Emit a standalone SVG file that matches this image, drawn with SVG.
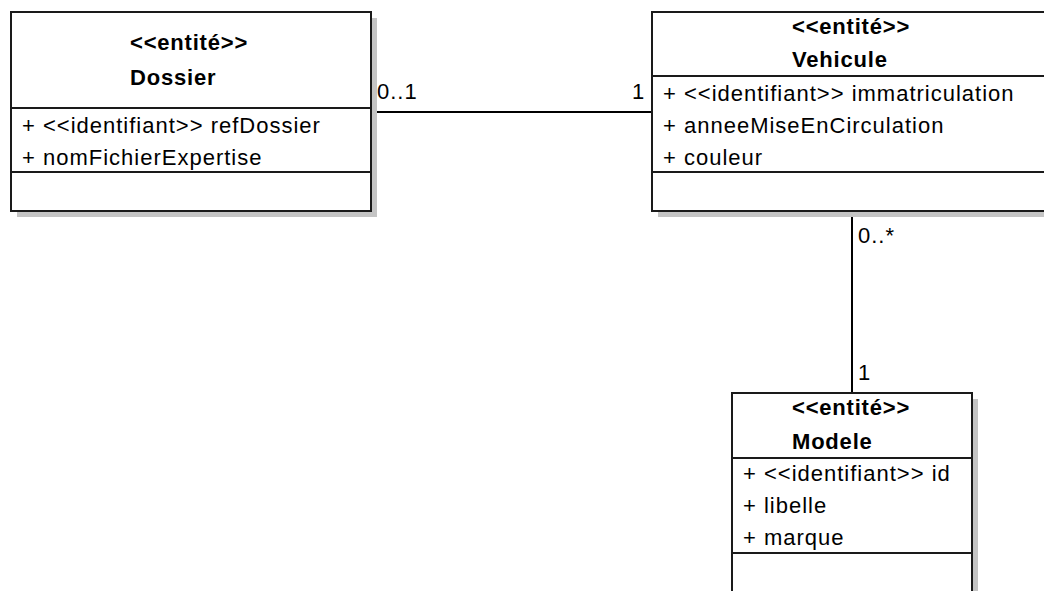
<svg xmlns="http://www.w3.org/2000/svg" width="1044" height="591" viewBox="0 0 1044 591">
<style>
.box{fill:#fff;stroke:#1a1a1a;stroke-width:2}
.shadow{fill:#c4c4c4}
.div{stroke:#1a1a1a;stroke-width:2}
.t{font-family:"Liberation Sans",Arial,sans-serif;font-size:22px;letter-spacing:1px;fill:#000}
.b{font-weight:bold;letter-spacing:0.8px}
.conn{stroke:#000;stroke-width:2;fill:none}
</style>
<rect width="1044" height="591" fill="#fff"/>
<g id="connectors">
<line class="conn" x1="372" y1="112" x2="652" y2="112"/>
<line class="conn" x1="852" y1="211" x2="852" y2="393"/>
<text class="t" x="377" y="99">0..1</text>
<text class="t" x="632" y="99">1</text>
<text class="t" x="858" y="243">0..*</text>
<text class="t" x="858" y="380">1</text>
</g>
<g id="dossier">
<rect class="shadow" x="17" y="18" width="360" height="199"/>
<rect class="box" x="11" y="12" width="360" height="199"/>
<line class="div" x1="11" y1="108" x2="371" y2="108"/>
<line class="div" x1="11" y1="172" x2="371" y2="172"/>
<text class="t b" x="130" y="50">&lt;&lt;entité&gt;&gt;</text>
<text class="t b" x="130" y="85">Dossier</text>
<text class="t" x="22" y="133">+ &lt;&lt;identifiant&gt;&gt; refDossier</text>
<text class="t" x="22" y="165">+ nomFichierExpertise</text>
</g>
<g id="vehicule">
<rect class="shadow" x="658" y="18" width="400" height="199"/>
<rect class="box" x="652" y="12" width="400" height="199"/>
<line class="div" x1="652" y1="76" x2="1052" y2="76"/>
<line class="div" x1="652" y1="172" x2="1052" y2="172"/>
<text class="t b" x="792" y="34">&lt;&lt;entité&gt;&gt;</text>
<text class="t b" x="792" y="67">Vehicule</text>
<text class="t" x="663" y="101">+ &lt;&lt;identifiant&gt;&gt; immatriculation</text>
<text class="t" x="663" y="133">+ anneeMiseEnCirculation</text>
<text class="t" x="663" y="165">+ couleur</text>
</g>
<g id="modele">
<rect class="shadow" x="738" y="399" width="240" height="210"/>
<rect class="box" x="732" y="393" width="240" height="210"/>
<line class="div" x1="732" y1="458" x2="972" y2="458"/>
<line class="div" x1="732" y1="553" x2="972" y2="553"/>
<text class="t b" x="792" y="415">&lt;&lt;entité&gt;&gt;</text>
<text class="t b" x="792" y="449">Modele</text>
<text class="t" x="743" y="481">+ &lt;&lt;identifiant&gt;&gt; id</text>
<text class="t" x="743" y="513">+ libelle</text>
<text class="t" x="743" y="545">+ marque</text>
</g>
</svg>
